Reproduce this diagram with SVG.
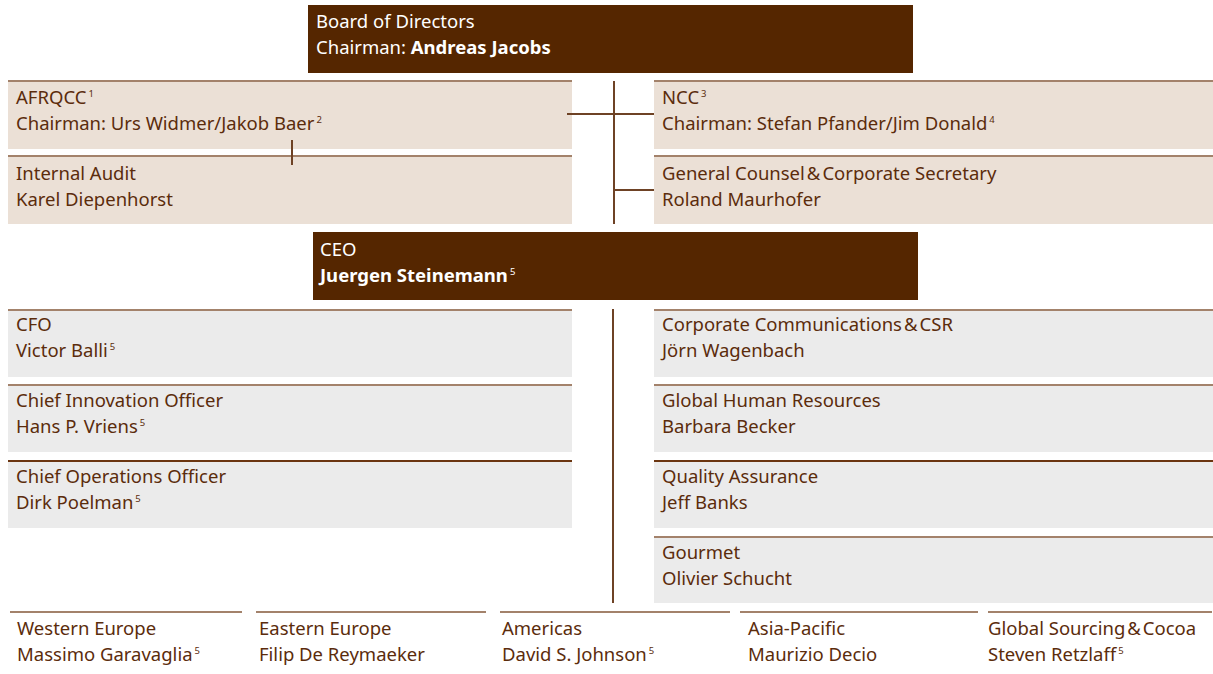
<svg xmlns="http://www.w3.org/2000/svg" width="1213" height="674" viewBox="0 0 1213 674">
  <style>
    text { font-family: "Noto Sans", "Open Sans", sans-serif; font-size: 18.5px; fill: #5b2c0c; }
    .hd text { fill: #ffffff; }
    .b { font-weight: bold; }
    .sup { font-size: 9.5px; }
    .dark { fill: #552600; }
    .beige { fill: #ebe0d6; }
    .gray { fill: #ebebeb; }
    .rule { stroke: #a3826b; stroke-width: 2; }
    .rule-dk { stroke: #6b3510; stroke-width: 2; }
    .conn line { stroke: #6e4225; stroke-width: 2; }
  </style>

  <!-- board -->
  <g id="board" class="hd">
    <rect class="dark" x="308" y="5" width="605" height="68"/>
    <text x="316" y="28">Board of Directors</text>
    <text x="316" y="54">Chairman: <tspan class="b">Andreas Jacobs</tspan></text>
  </g>

  <g id="afrqcc">
    <rect class="beige" x="8" y="81" width="564" height="68"/>
    <line class="rule" x1="8" y1="81" x2="572" y2="81"/>
    <text x="16" y="104">AFRQCC<tspan class="sup" dx="2" dy="-7">1</tspan></text>
    <text x="16" y="130">Chairman: Urs Widmer/Jakob Baer<tspan class="sup" dx="2" dy="-7">2</tspan></text>
  </g>

  <g id="internal-audit">
    <rect class="beige" x="8" y="156" width="564" height="68"/>
    <line class="rule" x1="8" y1="156" x2="572" y2="156"/>
    <text x="16" y="180">Internal Audit</text>
    <text x="16" y="206">Karel Diepenhorst</text>
  </g>

  <g id="ncc">
    <rect class="beige" x="654" y="81" width="559" height="68"/>
    <line class="rule" x1="654" y1="81" x2="1213" y2="81"/>
    <text x="662" y="104">NCC<tspan class="sup" dx="2" dy="-7">3</tspan></text>
    <text x="662" y="130">Chairman: Stefan Pfander/Jim Donald<tspan class="sup" dx="2" dy="-7">4</tspan></text>
  </g>

  <g id="general-counsel">
    <rect class="beige" x="654" y="156" width="559" height="68"/>
    <line class="rule" x1="654" y1="156" x2="1213" y2="156"/>
    <text x="662" y="180">General Counsel<tspan dx="2">&amp;</tspan><tspan dx="2">Corporate Secretary</tspan></text>
    <text x="662" y="206">Roland Maurhofer</text>
  </g>

  <!-- CEO -->
  <g id="ceo" class="hd">
    <rect class="dark" x="313" y="232" width="605" height="68"/>
    <text x="320" y="256">CEO</text>
    <text x="320" y="282" class="b">Juergen Steinemann<tspan class="sup" dx="2" dy="-7" font-weight="normal">5</tspan></text>
  </g>

  <g id="cfo">
    <rect class="gray" x="8" y="310" width="564" height="67"/>
    <line class="rule" x1="8" y1="310" x2="572" y2="310"/>
    <text x="16" y="331">CFO</text>
    <text x="16" y="357">Victor Balli<tspan class="sup" dx="2" dy="-7">5</tspan></text>
  </g>

  <g id="cio">
    <rect class="gray" x="8" y="385" width="564" height="67"/>
    <line class="rule" x1="8" y1="385" x2="572" y2="385"/>
    <text x="16" y="407">Chief Innovation Officer</text>
    <text x="16" y="433">Hans P. Vriens<tspan class="sup" dx="2" dy="-7">5</tspan></text>
  </g>

  <g id="coo">
    <rect class="gray" x="8" y="461" width="564" height="67"/>
    <line class="rule-dk" x1="8" y1="461" x2="572" y2="461"/>
    <text x="16" y="483">Chief Operations Officer</text>
    <text x="16" y="509">Dirk Poelman<tspan class="sup" dx="2" dy="-7">5</tspan></text>
  </g>

  <g id="corporate-communications">
    <rect class="gray" x="654" y="310" width="559" height="67"/>
    <line class="rule" x1="654" y1="310" x2="1213" y2="310"/>
    <text x="662" y="331">Corporate Communications<tspan dx="2">&amp;</tspan><tspan dx="2">CSR</tspan></text>
    <text x="662" y="357">Jörn Wagenbach</text>
  </g>

  <g id="human-resources">
    <rect class="gray" x="654" y="385" width="559" height="67"/>
    <line class="rule" x1="654" y1="385" x2="1213" y2="385"/>
    <text x="662" y="407">Global Human Resources</text>
    <text x="662" y="433">Barbara Becker</text>
  </g>

  <g id="quality-assurance">
    <rect class="gray" x="654" y="461" width="559" height="67"/>
    <line class="rule-dk" x1="654" y1="461" x2="1213" y2="461"/>
    <text x="662" y="483">Quality Assurance</text>
    <text x="662" y="509">Jeff Banks</text>
  </g>

  <g id="gourmet">
    <rect class="gray" x="654" y="537" width="559" height="66"/>
    <line class="rule" x1="654" y1="537" x2="1213" y2="537"/>
    <text x="662" y="559">Gourmet</text>
    <text x="662" y="585">Olivier Schucht</text>
  </g>

  <!-- regions -->
  <g id="western-europe">
    <line class="rule" x1="10" y1="612" x2="242" y2="612"/>
    <text x="17" y="635">Western Europe</text>
    <text x="17" y="661">Massimo Garavaglia<tspan class="sup" dx="2" dy="-7">5</tspan></text>
  </g>

  <g id="eastern-europe">
    <line class="rule" x1="256" y1="612" x2="486" y2="612"/>
    <text x="259" y="635">Eastern Europe</text>
    <text x="259" y="661">Filip De Reymaeker</text>
  </g>

  <g id="americas">
    <line class="rule" x1="500" y1="612" x2="730" y2="612"/>
    <text x="502" y="635">Americas</text>
    <text x="502" y="661">David S. Johnson<tspan class="sup" dx="2" dy="-7">5</tspan></text>
  </g>

  <g id="asia-pacific">
    <line class="rule" x1="740" y1="612" x2="978" y2="612"/>
    <text x="748" y="635">Asia-Pacific</text>
    <text x="748" y="661">Maurizio Decio</text>
  </g>

  <g id="global-sourcing">
    <line class="rule" x1="988" y1="612" x2="1212" y2="612"/>
    <text x="988" y="635">Global Sourcing<tspan dx="2">&amp;</tspan><tspan dx="2">Cocoa</tspan></text>
    <text x="988" y="661">Steven Retzlaff<tspan class="sup" dx="2" dy="-7">5</tspan></text>
  </g>

  <!-- connectors, drawn over the boxes -->
  <g id="connectors" class="conn">
    <line x1="614" y1="81" x2="614" y2="224"/>
    <line x1="567" y1="114" x2="654" y2="114"/>
    <line x1="614" y1="190" x2="654" y2="190"/>
    <line x1="292" y1="140" x2="292" y2="165"/>
    <line x1="613" y1="309" x2="613" y2="603"/>
  </g>
</svg>
